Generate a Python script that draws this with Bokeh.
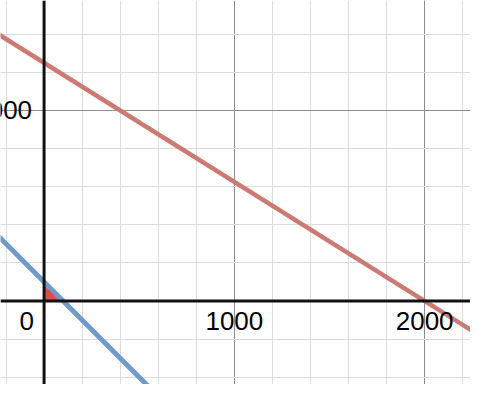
from bokeh.plotting import figure
from bokeh.models import Range1d, Grid, SingleIntervalTicker, Span, ColumnDataSource
from bokeh.core.properties import value
from bokeh.embed import file_html
from bokeh.resources import INLINE

# Constraint lines
red_x = [-400, 2400]
red_y = [1500, -250]
blue_x = [-400, 600]
blue_y = [500, -500]

# Shaded feasible region near the origin
region_x = [0, 100, 0]
region_y = [0, 0, 100]

# Tick labels
xtick_vals = [1000, 2000]
xtick_labels = ["1000", "2000"]
ytick_vals = [1000]
ytick_labels = ["1000"]
origin_label = ["0"]

W, H = 470, 384
p = figure(width=W, height=H, output_backend="svg", toolbar_location=None,
           x_range=Range1d(-229, 2241), y_range=Range1d(-438, 1577),
           x_axis_type=None, y_axis_type=None, min_border=0,
           background_fill_color="white", border_fill_color="white")
p.outline_line_color = None

for dim in (0, 1):
    g = Grid(dimension=dim, ticker=SingleIntervalTicker(interval=1000, num_minor_ticks=5),
             grid_line_color="#8c8c8c", grid_line_width=1,
             minor_grid_line_color="#dcdcdc", minor_grid_line_width=1)
    p.add_layout(g)

p.add_layout(Span(location=0, dimension="height", line_color="#111111", line_width=3))
p.add_layout(Span(location=0, dimension="width", line_color="#111111", line_width=3))

p.patch(region_x, region_y, fill_color="#e24b4b", fill_alpha=1.0, line_color=None)
p.line(red_x, red_y, line_color="#cb7b74", line_width=4.5)
p.line(blue_x, blue_y, line_color="#729ac8", line_width=5)

font = value("Liberation Sans")
xs = ColumnDataSource(dict(x=xtick_vals, y=[0] * len(xtick_vals), t=xtick_labels))
p.text(x="x", y="y", text="t", source=xs, text_font=font, text_font_size="26px",
       text_align="center", text_baseline="top", y_offset=11, text_color="black")
ys = ColumnDataSource(dict(x=[0] * len(ytick_vals), y=ytick_vals, t=ytick_labels))
p.text(x="x", y="y", text="t", source=ys, text_font=font, text_font_size="26px",
       text_align="right", text_baseline="middle", x_offset=-12, text_color="black")
os_ = ColumnDataSource(dict(x=[0], y=[0], t=origin_label))
p.text(x="x", y="y", text="t", source=os_, text_font=font, text_font_size="26px",
       text_align="right", text_baseline="top", x_offset=-10, y_offset=11, text_color="black")

open("out.html", "w").write(file_html(p, INLINE))
